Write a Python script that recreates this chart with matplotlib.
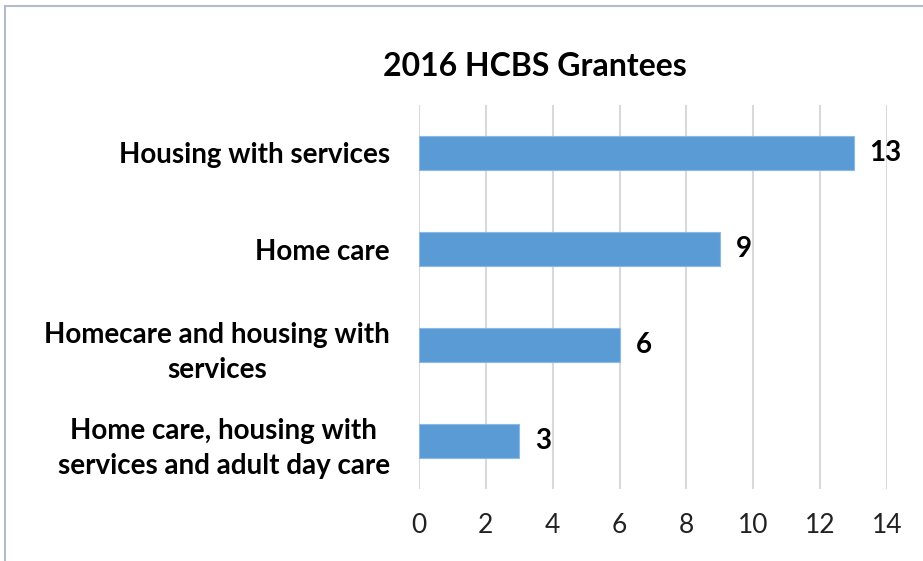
import matplotlib.pyplot as plt
from matplotlib.patches import Rectangle

# --- data --- #
categories = [
    "Housing with services",
    "Home care",
    "Homecare and housing with\nservices",
    "Home care, housing with\nservices and adult day care",
]
grantees = [13, 9, 6, 3]
x_ticks = [0, 2, 4, 6, 8, 10, 12, 14]

plt.rcParams["font.family"] = ["Lato", "DejaVu Sans"]

fig = plt.figure(figsize=(9.23, 5.61), dpi=100)
ax = fig.add_axes([0.454, 0.128, 0.507, 0.685])

# top category first
pos = list(range(len(categories)))[::-1]
ax.barh(pos, grantees, height=0.36, color="#5B9BD5",
        edgecolor="#8DB8E4", linewidth=0.8, zorder=3)

for y, v in zip(pos, grantees):
    ax.text(v + 0.48, y, str(v), va="center", ha="left",
            fontsize=20, fontweight="bold", color="black")

ax.set_xlim(0, 14)
ax.set_ylim(-0.5, len(categories) - 0.5)
ax.set_xticks(x_ticks)
ax.set_xticklabels([str(t) for t in x_ticks], fontsize=19)
ax.set_yticks(pos)
ax.set_yticklabels(categories, fontsize=20, fontweight="bold")
for lbl in ax.get_yticklabels():
    lbl.set_multialignment("center")
    lbl.set_linespacing(1.45)

ax.tick_params(axis="y", length=0, pad=21)
ax.tick_params(axis="x", length=0, pad=17, colors="#222222")
ax.grid(True, axis="x", color="#D9D9D9", linewidth=1.5, zorder=0)
for s in ax.spines.values():
    s.set_visible(False)

fig.text(0.58, 0.882, "2016 HCBS Grantees", ha="center", va="center",
         fontsize=23, fontweight="bold")

# outer chart frame
fig.patches.append(Rectangle((0.005, -0.01), 1.1, 1.0, transform=fig.transFigure,
                             fill=False, edgecolor="#B4BCCB", linewidth=1.5))

fig.savefig("out.png", dpi=100)
